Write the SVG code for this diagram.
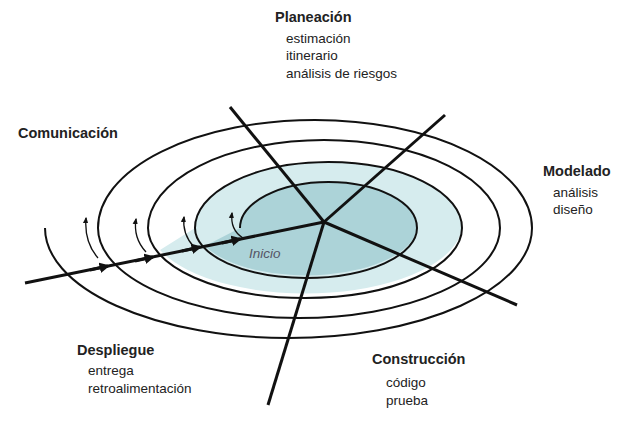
<svg xmlns="http://www.w3.org/2000/svg" width="640" height="423" viewBox="0 0 640 423">
<defs>
<style>
text{font-family:"Liberation Sans",Arial,sans-serif;font-size:13.5px;fill:#222}
.b{font-weight:bold;font-size:14.5px}
.ln{fill:none;stroke:#111;stroke-width:2}
.ax{fill:none;stroke:#111;stroke-width:3}
.sa{fill:none;stroke:#111;stroke-width:1.3}
</style>
<marker id="ah" viewBox="0 0 10 10" refX="8" refY="5" markerWidth="3.5" markerHeight="3.5" orient="auto"><path d="M0,0L10,5L0,10z" fill="#111"/></marker>
<marker id="sh" viewBox="0 0 10 10" refX="8" refY="5" markerWidth="5" markerHeight="5" orient="auto"><path d="M0,1L10,5L0,9z" fill="#111"/></marker>
</defs>
<rect width="640" height="423" fill="#fff"/>
<g id="fill">
<path fill="#d6ecee" d="M195,228 A133.5,66 0 0 1 462,228 A157,70 0 0 1 160,250 L195,228z"/>
<path fill="#acd3d8" d="M240,228 A88.5,46 0 0 1 417,228 A111,50 0 0 1 205,246 L240,228z"/>
</g>
<g id="spiral">
<path class="ln" d="M240,228 A88.5,46 0 0 1 417,228 A111,50 0 0 1 195,228 A133.5,66 0 0 1 462,228 A157,70 0 0 1 148,228 A176,88 0 0 1 500,228 A201,90 0 0 1 98,228 A217,108 0 0 1 532,228 A243.5,110 0 0 1 45,228"/>
</g>
<g id="connectors">
<line class="ax" x1="324" y1="222" x2="230" y2="107"/>
<line class="ax" x1="324" y1="222" x2="445" y2="115"/>
<line class="ax" x1="324" y1="222" x2="517" y2="305"/>
<line class="ax" x1="324" y1="222" x2="268" y2="405"/>
<line class="ax" x1="324" y1="222" x2="25" y2="283"/>
<line class="ax" x1="90" y1="270" x2="108" y2="266" marker-end="url(#ah)"/>
<line class="ax" x1="135" y1="261" x2="153" y2="257" marker-end="url(#ah)"/>
<line class="ax" x1="182" y1="251" x2="200" y2="247" marker-end="url(#ah)"/>
<line class="ax" x1="222" y1="243" x2="240" y2="239" marker-end="url(#ah)"/>
<path class="sa" d="M98,258 Q84,242 86,218" marker-end="url(#sh)"/>
<path class="sa" d="M146,252 Q133,238 136,219" marker-end="url(#sh)"/>
<path class="sa" d="M194,247 Q182,234 184,217" marker-end="url(#sh)"/>
<path class="sa" d="M243,238 Q230,230 232,213" marker-end="url(#sh)"/>
</g>
<g id="planeacion">
<text class="b" x="275" y="22">Planeación</text>
<text x="286" y="43">estimación</text>
<text x="286" y="60">itinerario</text>
<text x="286" y="78">análisis de riesgos</text>
</g>
<g id="comunicacion"><text class="b" x="18" y="138">Comunicación</text></g>
<g id="modelado">
<text class="b" x="543" y="176">Modelado</text>
<text x="553" y="197">análisis</text>
<text x="553" y="214">diseño</text>
</g>
<g id="despliegue">
<text class="b" x="77" y="355">Despliegue</text>
<text x="88" y="375">entrega</text>
<text x="88" y="393">retroalimentación</text>
</g>
<g id="construccion">
<text class="b" x="372" y="364">Construcción</text>
<text x="386" y="387">código</text>
<text x="386" y="405">prueba</text>
</g>
<g id="inicio"><text x="249" y="258" style="font-style:italic;fill:#556">Inicio</text></g>
</svg>
